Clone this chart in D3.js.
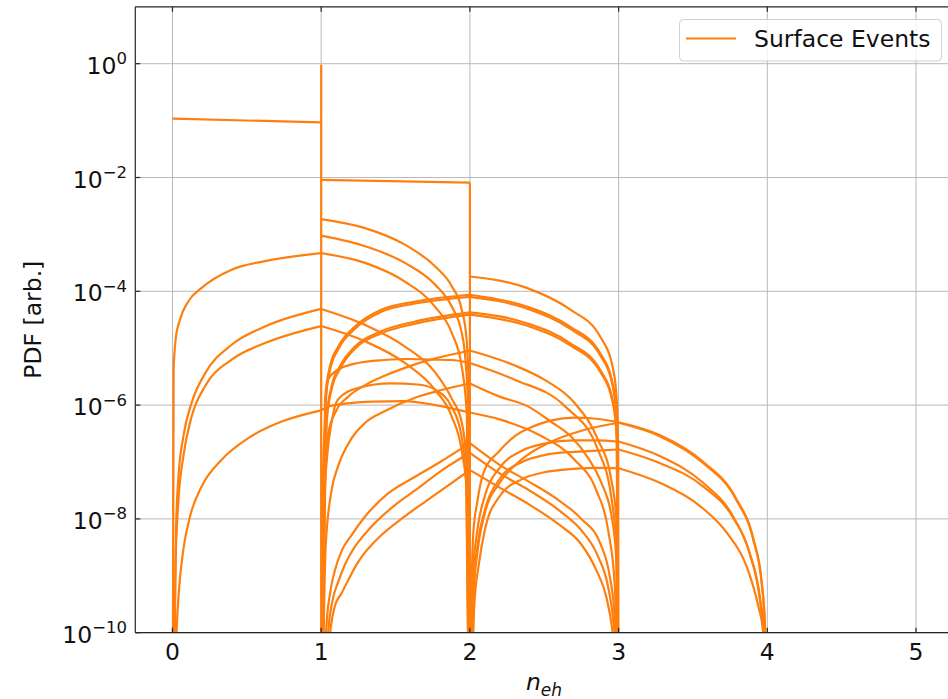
<!DOCTYPE html>
<html>
<head>
<meta charset="utf-8">
<script src="https://cdn.jsdelivr.net/npm/d3@7"></script>
<style>
  body { margin: 0; background: #fff; }
  svg { display: block; }
  text { font-family: "DejaVu Sans", sans-serif; fill: #111; }
</style>
</head>
<body>
<svg id="chart" width="948" height="699"></svg>
<script>
// ---- axis ticks ----
const xTicks = [0, 1, 2, 3, 4, 5];
const yTickExps = [0, -2, -4, -6, -8, -10];
const legendLabel = "Surface Events";

// ---- flat plateaus and the jumps that join them ----
const plateauLow = [[0, 0.108], [1, 0.093]];
const plateauHigh = [[1, 0.0091], [2, 0.0081]];
const jumpX = [1, 2];
const jumpTop = [0.955, 0.0081];

// ---- PDF branches, [n_eh, PDF]; a PDF of 0 marks where a branch vanishes ----
const curveA = [[0,0],[0.008,4.5e-6],[0.012,7.2e-6],[0.021,1.41e-5],[0.05,3.16e-5],[0.106,6.6e-5],[0.196,1.15e-4],[0.398,2.4e-4],[0.622,3.39e-4],[1,4.68e-4],[1.295,3.16e-4],[1.563,1.48e-4],[1.765,5.37e-5],[1.878,1.86e-5],[1.945,4.8e-6],[1.98,6.3e-7],[2,0]];
const curveB = [[0,0],[0.017,4.4e-10],[0.024,6.5e-9],[0.039,4.9e-8],[0.073,2.8e-7],[0.129,1.1e-6],[0.219,3.6e-6],[0.398,1.15e-5],[0.622,2.4e-5],[1,4.9e-5],[1.295,2.57e-5],[1.563,1.07e-5],[1.765,3.8e-6],[1.878,1.3e-6],[1.945,5.0e-7],[1.978,1.0e-7],[2,0]];
const curveC = [[0,0],[0.021,1.66e-9],[0.039,1.9e-8],[0.073,1.26e-7],[0.129,6.3e-7],[0.219,2.14e-6],[0.398,6.3e-6],[0.622,1.23e-5],[1,2.45e-5],[1.295,1.32e-5],[1.563,5.5e-6],[1.765,1.86e-6],[1.878,6.3e-7],[1.945,1.58e-7],[1.978,3.2e-8],[2,0]];
const curveD = [[0,0],[0.028,1.12e-10],[0.044,5.75e-10],[0.073,2.88e-9],[0.118,1.1e-8],[0.196,3.72e-8],[0.331,1.1e-7],[0.51,2.63e-7],[0.734,5.13e-7],[1,8.1e-7],[1.05,9.5e-7],[1.15,1.05e-6],[1.35,1.15e-6],[1.55,1.17e-6],[1.75,1.02e-6],[1.9,8.5e-7],[2,7.4e-7],[2.2,5.6e-7],[2.47,2.95e-7],[2.7,1.12e-7],[2.85,3.16e-8],[2.93,6.3e-9],[2.975,6.3e-10],[3,0]];
const curveE1 = [[1,1.86e-3],[1.295,1.29e-3],[1.563,6.6e-4],[1.765,2.75e-4],[1.878,1.23e-4],[1.945,4.8e-5],[1.978,1.41e-5],[1.995,1e-6],[2,0]];
const curveE2 = [[1,9.5e-4],[1.295,6.2e-4],[1.563,3.16e-4],[1.765,1.32e-4],[1.878,5.4e-5],[1.945,1.86e-5],[1.97,6.3e-6],[1.99,6.3e-7],[2,0]];
const curveI1 = [[2,1.82e-4],[2.382,1.15e-4],[2.673,4.8e-5],[2.875,1.62e-5],[2.964,4.2e-6],[2.987,1.26e-6],[2.997,1.6e-7],[3,0]];
const curveG1 = [[1,0],[1.026,1.26e-6],[1.059,4.8e-6],[1.115,1.07e-5],[1.227,2.4e-5],[1.407,4.8e-5],[1.631,6.6e-5],[2,8.7e-5],[2.382,5.4e-5],[2.673,2.4e-5],[2.875,8.3e-6],[2.964,2.14e-6],[2.987,5.5e-7],[3,0]];
const curveG1b = [[1,0],[1.028,1.1e-6],[1.061,4.3e-6],[1.117,9.8e-6],[1.227,2.2e-5],[1.407,4.4e-5],[1.631,6.1e-5],[2,8.0e-5],[2.382,5.0e-5],[2.673,2.2e-5],[2.875,7.6e-6],[2.964,1.96e-6],[2.988,5.0e-7],[3,0]];
const curveG2 = [[1,0],[1.037,6.3e-7],[1.07,2.14e-6],[1.126,4.8e-6],[1.227,1.07e-5],[1.407,2.0e-5],[1.631,2.95e-5],[2,4.27e-5],[2.382,2.75e-5],[2.673,1.23e-5],[2.875,4.2e-6],[2.964,1.1e-6],[2.99,2.5e-7],[3,0]];
const curveG2b = [[1,0],[1.039,5.8e-7],[1.072,1.97e-6],[1.128,4.4e-6],[1.227,9.8e-6],[1.407,1.84e-5],[1.631,2.7e-5],[2,3.9e-5],[2.382,2.5e-5],[2.673,1.13e-5],[2.875,3.9e-6],[2.964,1.0e-6],[2.99,2.3e-7],[3,0]];
const curveK1 = [[1,0],[1.02,3.2e-8],[1.048,3.2e-7],[1.1,7.9e-7],[1.182,1.41e-6],[1.295,2.24e-6],[1.43,3.3e-6],[1.631,5.2e-6],[2,9.1e-6],[2.3,5.0e-6],[2.5,2.8e-6],[2.7,1.12e-6],[2.86,2.5e-7],[2.95,5.0e-8],[2.985,1.0e-8],[3,0]];
const curveK2 = [[1,0],[1.03,3.2e-9],[1.07,3.2e-8],[1.11,7.9e-8],[1.2,2.5e-7],[1.3,5.0e-7],[1.43,7.9e-7],[1.631,1.35e-6],[1.8,1.82e-6],[2,2.4e-6],[2.2,1.41e-6],[2.39,9.5e-7],[2.55,5.0e-7],[2.68,2.8e-7],[2.8,1.12e-7],[2.875,4.9e-8],[2.964,7.4e-9],[2.99,1.0e-9],[3,0]];
const curveH1 = [[1,0],[1.01,3.2e-8],[1.025,5.0e-7],[1.046,2.8e-6],[1.1,4.0e-6],[1.247,5.5e-6],[1.42,6.2e-6],[1.583,6.46e-6],[1.75,6.3e-6],[1.875,6.2e-6],[2,5.5e-6],[2.3,2.8e-6],[2.64,9.5e-7],[2.86,1.66e-7],[2.95,2.5e-8],[2.985,3.2e-9],[3,0]];
const curveH2 = [[1,0],[1.015,1e-8],[1.04,1.26e-7],[1.07,5.0e-7],[1.113,1.26e-6],[1.247,2.0e-6],[1.47,2.4e-6],[1.65,2.3e-6],[1.786,1.74e-6],[1.875,9.5e-7],[1.94,3.2e-7],[1.975,5.0e-8],[2,0]];
const curveL1 = [[1,0],[1.035,1.26e-10],[1.06,5.0e-10],[1.093,1.26e-9],[1.14,2.82e-9],[1.2,5.0e-9],[1.295,1.1e-8],[1.45,2.8e-8],[1.631,5.5e-8],[1.8,1.0e-7],[2,2.14e-7],[2.2,8.9e-8],[2.4,4.47e-8],[2.6,2.1e-8],[2.75,1.0e-8],[2.88,3.55e-9],[2.94,1.0e-9],[2.97,2.5e-10],[2.985,5.0e-11],[3,0]];
const curveL2 = [[1,0],[1.05,1.26e-10],[1.075,3.55e-10],[1.115,7.9e-10],[1.16,1.58e-9],[1.2,2.5e-9],[1.34,7.4e-9],[1.5,1.78e-8],[1.631,3.16e-8],[1.8,6.8e-8],[2,1.45e-7],[2.2,6.3e-8],[2.4,3.16e-8],[2.6,1.41e-8],[2.75,6.3e-9],[2.86,2.24e-9],[2.93,6.3e-10],[2.965,1.58e-10],[2.98,5.0e-11],[3,0]];
const curveL3 = [[1,0],[1.065,1.26e-10],[1.09,2.82e-10],[1.138,5.0e-10],[1.25,1.78e-9],[1.407,5.25e-9],[1.55,1.05e-8],[1.698,2.0e-8],[1.85,3.8e-8],[2,7.24e-8],[2.2,3.55e-8],[2.4,1.78e-8],[2.6,7.9e-9],[2.75,3.55e-9],[2.85,1.26e-9],[2.92,4.0e-10],[2.955,1.26e-10],[2.975,4.0e-11],[3,0]];
const curveN1 = [[2,0],[2.02,1.0e-9],[2.05,6.3e-9],[2.1,2.5e-8],[2.2,7.9e-8],[2.35,1.58e-7],[2.5,2.1e-7],[2.7,2.4e-7],[2.85,2.4e-7],[3,2.29e-7],[3.28,1.26e-7],[3.57,4.27e-8],[3.77,1.1e-8],[3.88,2.5e-9],[3.95,3.8e-10],[3.98,6.3e-11],[4,0]];
const curveN2 = [[2,0],[2.025,6.3e-10],[2.055,4.0e-9],[2.1,1.41e-8],[2.2,5.0e-8],[2.35,1.0e-7],[2.5,1.32e-7],[2.7,1.51e-7],[2.85,1.58e-7],[3,1.66e-7],[3.28,9.5e-8],[3.57,3.7e-8],[3.77,1.05e-8],[3.88,2.6e-9],[3.95,4.2e-10],[3.98,8e-11],[4,0]];
const curveN3 = [[2,0],[2.03,3.16e-10],[2.06,1.58e-9],[2.1,6.3e-9],[2.2,2.5e-8],[2.35,5.0e-8],[2.5,6.6e-8],[2.7,7.6e-8],[2.85,7.9e-8],[3,7.76e-8],[3.28,4.27e-8],[3.55,1.66e-8],[3.73,5.6e-9],[3.86,1.48e-9],[3.94,2.88e-10],[3.97,1.12e-10],[4,0]];
const curveR1 = [[2,0],[2.02,3.2e-10],[2.05,2.5e-9],[2.1,1.26e-8],[2.2,4.27e-8],[2.35,1.12e-7],[2.54,2.24e-7],[2.75,3.55e-7],[3,4.9e-7],[3.28,2.82e-7],[3.57,9.5e-8],[3.79,2.19e-8],[3.906,4.27e-9],[3.962,7.4e-10],[3.985,1.12e-10],[4,0]];
const curveR2 = [[2,0],[2.01,3.2e-10],[2.023,5.6e-9],[2.05,2.0e-8],[2.09,6.3e-8],[2.2,1.58e-7],[2.3,2.82e-7],[2.43,4.27e-7],[2.55,5.4e-7],[2.7,6.0e-7],[2.85,5.75e-7],[3,5.0e-7],[3.28,2.95e-7],[3.57,1.0e-7],[3.79,2.29e-8],[3.906,4.47e-9],[3.962,7.9e-10],[3.985,1.26e-10],[4,0]];

const branches = [curveA, curveB, curveC, curveD, curveE1, curveE2, curveI1,
  curveG1, curveG1b, curveG2, curveG2b, curveK1, curveK2, curveH1, curveH2,
  curveL1, curveL2, curveL3, curveN1, curveN2, curveN3, curveR1, curveR2];

// ---- layout ----
const W = 948, H = 699;
const plotLeft = 135.3, plotTop = 6.8, plotBottom = 632.7;
const color = "#ff7f0e";
const floorVal = 1e-13;   // zero PDF falls off the bottom of the log axis

const x = d3.scaleLinear().domain([-0.25, 5.25]).range([plotLeft, 953.2]);
const y = d3.scaleLog().domain([1e-10, 10]).range([plotBottom, plotTop]);

const svg = d3.select("#chart");

svg.append("defs").append("clipPath").attr("id", "plot-clip")
  .append("rect")
  .attr("x", plotLeft).attr("y", plotTop)
  .attr("width", W - plotLeft).attr("height", plotBottom - plotTop);

// grid
const grid = svg.append("g").attr("stroke", "#b8b8b8").attr("stroke-width", 1);
xTicks.forEach(t => grid.append("line")
  .attr("x1", x(t)).attr("x2", x(t)).attr("y1", plotTop).attr("y2", plotBottom));
yTickExps.forEach(e => grid.append("line")
  .attr("x1", plotLeft).attr("x2", W).attr("y1", y(Math.pow(10, e))).attr("y2", y(Math.pow(10, e))));

// data
const plot = svg.append("g").attr("clip-path", "url(#plot-clip)")
  .attr("fill", "none").attr("stroke", color).attr("stroke-width", 2.2)
  .attr("stroke-linejoin", "round").attr("stroke-linecap", "butt");

const yv = v => y(Math.max(v, floorVal));
const smooth = d3.line().x(d => x(d[0])).y(d => yv(d[1])).curve(d3.curveMonotoneX);
const straight = d3.line().x(d => x(d[0])).y(d => yv(d[1]));

// each branch bends sharply at whole n_eh, so draw it piece by piece
function splitAtIntegers(pts) {
  const out = [];
  let cur = [pts[0]];
  for (let i = 1; i < pts.length; i++) {
    cur.push(pts[i]);
    if (Number.isInteger(pts[i][0]) && i < pts.length - 1) {
      out.push(cur);
      cur = [pts[i]];
    }
  }
  out.push(cur);
  return out;
}

branches.forEach(b => splitAtIntegers(b).forEach(p => plot.append("path").attr("d", smooth(p))));

plot.append("path").attr("d", straight(plateauLow));
plot.append("path").attr("d", straight(plateauHigh));
jumpX.forEach((jx, i) => plot.append("path").attr("d", straight([[jx, 0], [jx, jumpTop[i]]])));

// frame
const frame = svg.append("g").attr("stroke", "#262626").attr("stroke-width", 1.2).attr("fill", "none");
frame.append("line").attr("x1", plotLeft).attr("x2", plotLeft).attr("y1", plotTop).attr("y2", plotBottom);
frame.append("line").attr("x1", plotLeft).attr("x2", W).attr("y1", plotTop).attr("y2", plotTop);
frame.append("line").attr("x1", plotLeft).attr("x2", W).attr("y1", plotBottom).attr("y2", plotBottom);

// inward ticks
const tickLen = 5;
xTicks.forEach(t => {
  frame.append("line").attr("x1", x(t)).attr("x2", x(t)).attr("y1", plotBottom).attr("y2", plotBottom - tickLen);
  frame.append("line").attr("x1", x(t)).attr("x2", x(t)).attr("y1", plotTop).attr("y2", plotTop + tickLen);
});
yTickExps.forEach(e => {
  const yy = y(Math.pow(10, e));
  frame.append("line").attr("x1", plotLeft).attr("x2", plotLeft + tickLen).attr("y1", yy).attr("y2", yy);
});

// tick labels
const fs = 23.5;
xTicks.forEach(t => svg.append("text")
  .attr("x", x(t)).attr("y", plotBottom + 27.5)
  .attr("text-anchor", "middle").attr("font-size", fs).text(t));

yTickExps.forEach(e => {
  const tx = svg.append("text")
    .attr("x", 127).attr("y", y(Math.pow(10, e)) + 10)
    .attr("text-anchor", "end").attr("font-size", fs);
  tx.append("tspan").text("10");
  tx.append("tspan").attr("dy", -9.5).attr("font-size", 16.5)
    .text(e < 0 ? "\u2212" + Math.abs(e) : String(e));
});

// axis titles
svg.append("text")
  .attr("transform", `translate(41, ${(plotTop + plotBottom) / 2}) rotate(-90)`)
  .attr("text-anchor", "middle").attr("font-size", fs).text("PDF [arb.]");

const xt = svg.append("text")
  .attr("x", 544).attr("y", 690).attr("text-anchor", "middle")
  .attr("font-size", fs).attr("font-style", "italic");
xt.append("tspan").text("n");
xt.append("tspan").attr("font-size", 17).attr("dy", 6).text("eh");

// legend
const lg = svg.append("g");
lg.append("rect").attr("x", 679.5).attr("y", 19.5).attr("width", 262).attr("height", 41.5)
  .attr("rx", 4).attr("fill", "#fff").attr("fill-opacity", 0.8)
  .attr("stroke", "#d0d0d0").attr("stroke-width", 1);
lg.append("line").attr("x1", 686).attr("x2", 736).attr("y1", 38.5).attr("y2", 38.5)
  .attr("stroke", color).attr("stroke-width", 2.2);
lg.append("text").attr("x", 754).attr("y", 47).attr("font-size", fs).text(legendLabel);
</script>
</body>
</html>
